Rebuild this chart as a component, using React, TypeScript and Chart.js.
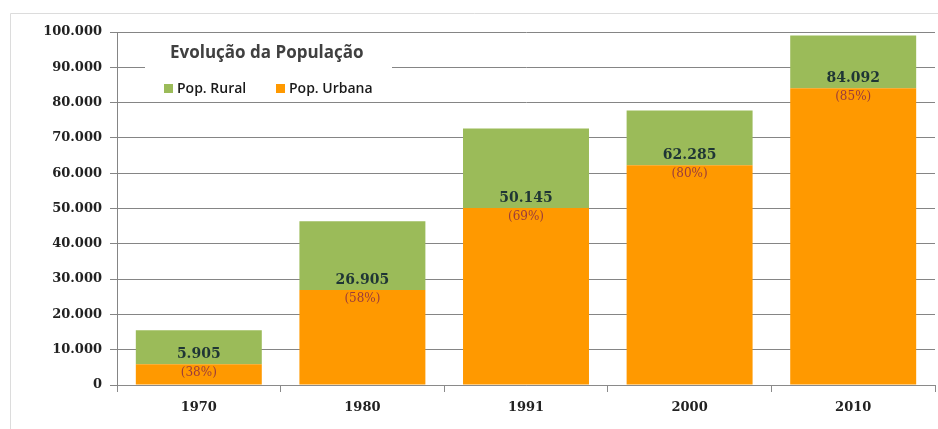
import React, { useEffect, useRef } from "react";
import { Chart, registerables } from "chart.js";

Chart.register(...registerables);

const years = ["1970", "1980", "1991", "2000", "2010"];
const urbana = [5905, 26905, 50145, 62285, 84092];
const rural = [9600, 19500, 22500, 15500, 14900];
const pctUrbana = ["(38%)", "(58%)", "(69%)", "(80%)", "(85%)"];
const chartTitle = "Evolução da População";
const seriesNames = ["Pop. Rural", "Pop. Urbana"];

const GREEN = "#9BBB59";
const ORANGE = "#FF9900";

function fmt(n: number): string {
  return String(Math.round(n)).replace(/\B(?=(\d{3})+(?!\d))/g, ".");
}

const overlay = {
  id: "overlay",
  beforeDraw(chart: any) {
    const ctx = chart.ctx;
    ctx.save();
    ctx.fillStyle = "#ffffff";
    ctx.fillRect(0, 0, chart.width, chart.height);
    ctx.strokeStyle = "#dcdcdc";
    ctx.lineWidth = 1;
    ctx.beginPath();
    ctx.moveTo(10.5, chart.height);
    ctx.lineTo(10.5, 13.5);
    ctx.lineTo(chart.width, 13.5);
    ctx.stroke();
    ctx.restore();
  },
  afterDatasetsDraw(chart: any) {
    const ctx = chart.ctx;
    const urbMeta = chart.getDatasetMeta(0);
    ctx.save();
    ctx.textAlign = "center";
    ctx.textBaseline = "middle";
    urbMeta.data.forEach((bar: any, i: number) => {
      ctx.fillStyle = "#1f3535";
      ctx.font = "bold 14px 'DejaVu Serif'";
      ctx.fillText(fmt(urbana[i]), bar.x, bar.y - 10);
      ctx.fillStyle = "#9a3b3b";
      ctx.font = "12px 'DejaVu Serif'";
      ctx.fillText(pctUrbana[i], bar.x, bar.y + 9);
    });
    // title box
    ctx.fillStyle = "#ffffff";
    ctx.fillRect(145, 40, 247, 57);
    ctx.fillStyle = "#404040";
    ctx.font = "bold 17px 'Open Sans'";
    ctx.textAlign = "left";
    ctx.fillText(chartTitle, 170, 53);
    ctx.font = "600 14px 'Open Sans'";
    ctx.fillStyle = GREEN;
    ctx.fillRect(164, 84, 9, 9);
    ctx.fillStyle = "#1a1a1a";
    ctx.fillText(seriesNames[0], 177, 89);
    ctx.fillStyle = ORANGE;
    ctx.fillRect(276, 84, 9, 9);
    ctx.fillStyle = "#1a1a1a";
    ctx.fillText(seriesNames[1], 289, 89);
    ctx.restore();
  },
};

export default function App() {
  const ref = useRef<HTMLCanvasElement>(null);
  useEffect(() => {
    const chart = new Chart(ref.current!, {
      type: "bar",
      data: {
        labels: years,
        datasets: [
          { label: seriesNames[1], data: urbana, backgroundColor: ORANGE, stack: "s" },
          { label: seriesNames[0], data: rural, backgroundColor: GREEN, stack: "s" },
        ],
      },
      options: {
        animation: false,
        responsive: false,
        maintainAspectRatio: false,
        layout: { padding: { left: 10, top: 32, right: 3, bottom: 0 } },
        datasets: { bar: { categoryPercentage: 1, barPercentage: 0.77 } },
        plugins: { legend: { display: false }, tooltip: { enabled: false }, title: { display: false } },
        scales: {
          x: {
            stacked: true,
            afterFit(s: any) { s.height = 44; },
            grid: { offset: true, drawOnChartArea: false, tickLength: 7, color: "#8a8a8a" },
            border: { color: "#8a8a8a" },
            ticks: { color: "#222", font: { family: "'DejaVu Serif'", size: 13, weight: "bold" }, padding: 8 },
          },
          y: {
            stacked: true,
            min: 0,
            max: 100000,
            afterFit(s: any) { s.width = 107; },
            grid: { color: "#858585", tickLength: 7 },
            border: { color: "#858585" },
            ticks: {
              stepSize: 10000,
              color: "#222",
              padding: 8,
              font: { family: "'DejaVu Serif'", size: 13, weight: "bold" },
              callback: (v: any) => fmt(Number(v)),
            },
          },
        },
      },
      plugins: [overlay],
    });
    return () => chart.destroy();
  }, []);
  return (
    <div style={{ position: "fixed", left: 0, top: 0, width: 938, height: 429, background: "#fff" }}>
      <canvas ref={ref} width={938} height={429} style={{ width: 938, height: 429 }} />
    </div>
  );
}
